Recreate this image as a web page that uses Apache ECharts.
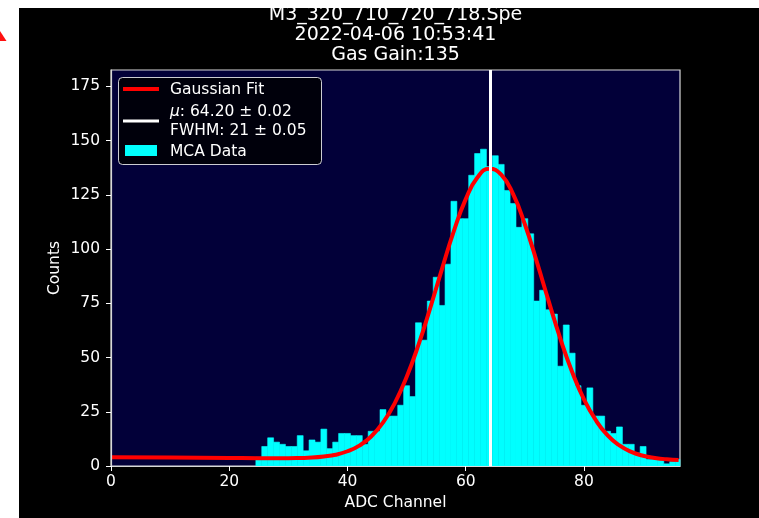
<!DOCTYPE html>
<html>
<head>
<meta charset="utf-8">
<script src="https://cdn.jsdelivr.net/npm/echarts@6/dist/echarts.min.js"></script>
<style>
  html, body { margin: 0; padding: 0; background: #ffffff; }
  #chart { width: 759px; height: 518px; }
</style>
</head>
<body>
<div id="chart"></div>
<script>
// MCA spectrum: counts per ADC channel
const channels = [25, 26, 27, 28, 29, 30, 31, 32, 33, 34, 35, 36, 37, 38, 39, 40, 41, 42, 43, 44,
                  45, 46, 47, 48, 49, 50, 51, 52, 53, 54, 55, 56, 57, 58, 59, 60, 61, 62, 63, 64,
                  65, 66, 67, 68, 69, 70, 71, 72, 73, 74, 75, 76, 77, 78, 79, 80, 81, 82, 83, 84,
                  85, 86, 87, 88, 89, 90, 91, 92, 93, 94, 95, 96];
const counts   = [4, 9, 13, 11, 10, 9, 9, 14, 7, 12, 11, 17, 8, 11, 15, 15, 14, 14, 10, 16,
                  16, 26, 23, 23, 28, 37, 32, 66, 58, 76, 87, 74, 93, 122, 114, 114, 134, 144, 146, 138,
                  143, 139, 127, 121, 110, 114, 107, 76, 81, 72, 70, 46, 65, 52, 37, 28, 36, 23, 23, 16,
                  15, 18, 10, 10, 6, 9, 3, 3, 3, 1, 2, 3];

// Gaussian fit curve, sampled along the channel axis
const fitChannels = [0, 10, 20, 25, 30, 32, 34, 36, 38, 40, 42, 44, 46, 48, 50, 52, 54, 56, 58, 60,
                     62, 64, 66, 68, 70, 72, 74, 76, 78, 80, 82, 84, 86, 88, 90, 92, 94, 96];
const fitCounts   = [4.0, 3.9, 3.7, 3.6, 3.6, 3.7, 3.9, 4.4, 5.2, 6.8, 9.4, 13.6, 20.0, 29.0, 41.0, 55.8, 72.9, 91.0, 108.4, 123.0,
                     133.1, 137.0, 134.3, 125.4, 111.4, 94.3, 76.2, 58.7, 43.3, 30.7, 21.1, 14.1, 9.5, 6.5, 4.7, 3.7, 3.1, 2.8];

// Fit results
const peakMu = 64.20;
const muText = ': 64.20 ± 0.02';
const fwhmText = 'FWHM: 21 ± 0.05';

const xTicks = [0, 20, 40, 60, 80];
const yTicks = [0, 25, 50, 75, 100, 125, 150, 175];
const xMax = 96.24;
const yMax = 182.5;

const titleLines = ['M3_320_710_720_718.Spe', '2022-04-06 10:53:41', 'Gas Gain:135'];

const FONT = 'DejaVu Sans';
const FS = 15.5;

const chart = echarts.init(document.getElementById('chart'), null, { renderer: 'canvas' });

const histData = channels.map((c, i) => [c, counts[i]]);
const fitData = fitChannels.map((c, i) => [c, fitCounts[i]]);

function renderBin(params, api) {
  const c = api.value(0);
  const v = api.value(1);
  const topLeft = api.coord([c - 0.5, v]);
  const bottomRight = api.coord([c + 0.5, 0]);
  const cs = params.coordSys;
  const shape = echarts.graphic.clipRectByRect(
    { x: topLeft[0], y: topLeft[1], width: bottomRight[0] - topLeft[0], height: bottomRight[1] - topLeft[1] },
    { x: cs.x, y: cs.y, width: cs.width, height: cs.height }
  );
  if (!shape) return null;
  return {
    type: 'rect',
    shape: shape,
    style: { fill: '#00ffff', stroke: '#00ffff', lineWidth: 0.6 }
  };
}

const titleGraphics = titleLines.map((t, i) => ({
  type: 'text',
  x: 395.5,
  y: 15.5 + i * 20,
  z: 20,
  style: {
    text: t,
    fill: '#ffffff',
    font: '19px "' + FONT + '"',
    align: 'center',
    verticalAlign: 'middle'
  }
}));

const legendGraphics = [
  { type: 'rect', z: 50, shape: { x: 118.5, y: 77.5, width: 203, height: 87, r: 4 },
    style: { fill: 'rgba(0,0,0,0.8)', stroke: 'rgba(255,255,255,0.8)', lineWidth: 1 } },
  { type: 'line', z: 51, shape: { x1: 123, y1: 89, x2: 159, y2: 89 },
    style: { stroke: '#ff0000', lineWidth: 3.8 } },
  { type: 'text', z: 51, x: 170, y: 89.5,
    style: { text: 'Gaussian Fit', fill: '#ffffff', font: FS + 'px "' + FONT + '"', verticalAlign: 'middle' } },
  { type: 'line', z: 51, shape: { x1: 123, y1: 121, x2: 159, y2: 121 },
    style: { stroke: '#ffffff', lineWidth: 3 } },
  { type: 'text', z: 51, x: 170, y: 112,
    style: {
      text: '{i|μ}' + muText,
      fill: '#ffffff', font: FS + 'px "' + FONT + '"', verticalAlign: 'middle',
      rich: { i: { fontStyle: 'italic', fontFamily: FONT, fontSize: FS, fill: '#ffffff' } }
    } },
  { type: 'text', z: 51, x: 170, y: 131,
    style: { text: fwhmText, fill: '#ffffff', font: FS + 'px "' + FONT + '"', verticalAlign: 'middle' } },
  { type: 'rect', z: 51, shape: { x: 125, y: 145, width: 32, height: 11 },
    style: { fill: '#00ffff' } },
  { type: 'text', z: 51, x: 170, y: 151.5,
    style: { text: 'MCA Data', fill: '#ffffff', font: FS + 'px "' + FONT + '"', verticalAlign: 'middle' } }
];

// White page margins around the black figure, and the small red marker at the edge
const marginGraphics = [
  { type: 'rect', z: 100, shape: { x: 0, y: 0, width: 759, height: 8 }, style: { fill: '#ffffff' } },
  { type: 'rect', z: 100, shape: { x: 0, y: 0, width: 19, height: 518 }, style: { fill: '#ffffff' } },
  { type: 'polygon', z: 101, shape: { points: [[0, 31], [6.5, 41], [0, 41]] }, style: { fill: '#ff1010' } }
];

const option = {
  backgroundColor: '#000000',
  animation: false,
  textStyle: { fontFamily: FONT },
  grid: {
    left: 111, right: 79, top: 70, bottom: 52,
    show: true,
    backgroundColor: '#020039',
    borderColor: '#d8d8d8',
    borderWidth: 1.2
  },
  xAxis: {
    type: 'value',
    min: 0,
    max: xMax,
    z: 10,
    axisLine: { show: true, onZero: false, lineStyle: { color: '#d8d8d8', width: 1.2 } },
    splitLine: { show: false },
    axisTick: { show: true, customValues: xTicks, length: 5, lineStyle: { color: '#ffffff', width: 1 } },
    axisLabel: { customValues: xTicks, color: '#ffffff', fontSize: FS, fontFamily: FONT, margin: 8 },
    name: 'ADC Channel',
    nameLocation: 'middle',
    nameGap: 29,
    nameMoveOverlap: false,
    nameTextStyle: { color: '#ffffff', fontSize: FS, fontFamily: FONT }
  },
  yAxis: {
    type: 'value',
    min: 0,
    max: yMax,
    z: 10,
    axisLine: { show: true, onZero: false, lineStyle: { color: '#d8d8d8', width: 1.2 } },
    splitLine: { show: false },
    axisTick: { show: true, customValues: yTicks, length: 5, lineStyle: { color: '#ffffff', width: 1 } },
    axisLabel: { customValues: yTicks, color: '#ffffff', fontSize: FS, fontFamily: FONT, margin: 11 },
    name: 'Counts',
    nameLocation: 'middle',
    nameGap: 48,
    nameMoveOverlap: false,
    nameTextStyle: { color: '#ffffff', fontSize: FS, fontFamily: FONT }
  },
  series: [
    {
      name: 'MCA Data',
      type: 'custom',
      z: 2,
      renderItem: renderBin,
      encode: { x: 0, y: 1 },
      data: histData
    },
    {
      name: 'Gaussian Fit',
      type: 'line',
      z: 3,
      smooth: true,
      showSymbol: false,
      symbol: 'none',
      lineStyle: { color: '#ff0000', width: 4 },
      data: fitData,
      markLine: {
        silent: true,
        symbol: ['none', 'none'],
        label: { show: false },
        lineStyle: { color: '#ffffff', width: 3, type: 'solid' },
        data: [{ xAxis: peakMu }]
      }
    }
  ],
  graphic: [].concat(titleGraphics, legendGraphics, marginGraphics)
};

chart.setOption(option);
</script>
</body>
</html>
